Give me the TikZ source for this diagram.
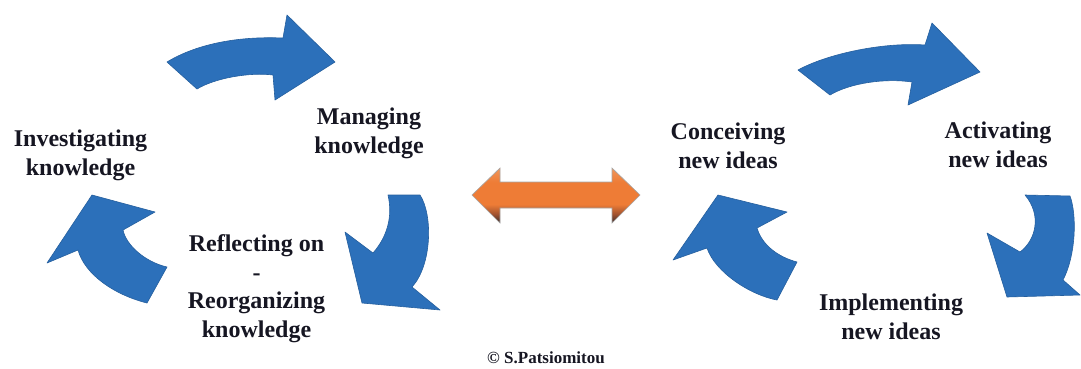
\documentclass[tikz,border=0pt]{standalone}
\usepackage{fontspec}
\setmainfont{Liberation Serif}
\definecolor{arrowblue}{RGB}{44,112,186}
\definecolor{labelink}{RGB}{22,22,34}
\definecolor{orangetop}{RGB}{240,150,92}
\definecolor{orangemid}{RGB}{238,124,54}
\definecolor{orangelow}{RGB}{160,82,48}
\definecolor{orangebot}{RGB}{58,44,44}
% vertical shading of the double arrow: dark rim at the bottom, orange body
\pgfdeclareverticalshading{orangebar}{100bp}{%
  color(0bp)=(orangebot); color(25bp)=(orangebot); color(33bp)=(orangelow);
  color(42bp)=(orangemid); color(62bp)=(orangemid); color(75bp)=(orangetop);
  color(100bp)=(orangetop)}
\begin{document}
\begin{tikzpicture}[x=1pt,y=-1pt,
  cyclearrow/.style={fill=arrowblue, draw=arrowblue!85!black, line width=0.6pt, line join=round},
  label/.style={font=\fontsize{24}{29}\selectfont\bfseries, text=labelink, align=center, anchor=base, inner sep=0pt},
]
\useasboundingbox (0,0) rectangle (1081,368);
\fill[white] (0,0) rectangle (1081,368);

% ---- knowledge cycle ----
% top arrow, pointing right
\path[cyclearrow] (167,62) .. controls (195,45) and (235,36) .. (283,38)
  -- (287,15) -- (335,62) -- (275,100) -- (273,75)
  .. controls (250,72) and (215,78) .. (197,89) -- cycle;
% right arrow, pointing down-left
\path[cyclearrow] (388,195) -- (420,195)
  .. controls (433,215) and (432,265) .. (412,287)
  -- (440,310) -- (362,303) -- (345,232) -- (373,253)
  .. controls (387,237) and (393,217) .. (388,195) -- cycle;
% left arrow, pointing up-left
\path[cyclearrow] (92,195) -- (155,212) -- (123,230)
  .. controls (126,245) and (145,262) .. (167,267)
  -- (147,303)
  .. controls (115,295) and (85,275) .. (78,250)
  -- (47,263) -- cycle;

% ---- ideas cycle ----
% top arrow, pointing right
\path[cyclearrow] (798,70) .. controls (825,55) and (880,42) .. (925,45)
  -- (932,23) -- (980,72) -- (908,105) -- (912,82)
  .. controls (885,78) and (850,83) .. (830,95) -- cycle;
% right arrow, pointing down-left
\path[cyclearrow] (1025,195) -- (1070,196)
  .. controls (1077,215) and (1076,255) .. (1063,280)
  -- (1080,295) -- (1007,297) -- (987,233) -- (1020,252)
  .. controls (1036,240) and (1042,215) .. (1025,195) -- cycle;
% left arrow, pointing up-left
\path[cyclearrow] (718,195) -- (787,212) -- (757,228)
  .. controls (762,245) and (778,257) .. (797,262)
  -- (777,300)
  .. controls (750,295) and (715,272) .. (707,248)
  -- (673,260) -- cycle;

% ---- double arrow linking the two cycles ----
\shadedraw[shading=orangebar, draw=gray!70, line width=0.6pt, line join=miter]
  (472,195) -- (500,168) -- (500,182) -- (612,182) -- (612,168) -- (640,195)
  -- (612,223) -- (612,208) -- (500,208) -- (500,223) -- cycle;

% ---- labels (anchored on the baseline of their last line) ----
\node[label] (investigating) at (80.5,175) {Investigating\\knowledge};
\node[label] (managing) at (369,153) {Managing\\knowledge};
\node[label, font=\fontsize{24}{28.5}\selectfont\bfseries] (reflecting) at (256.5,337)
  {Reflecting on\\-\\Reorganizing\\knowledge};
\node[label] (conceiving) at (728,168) {Conceiving\\new ideas};
\node[label] (activating) at (998,167) {Activating\\new ideas};
\node[label] (implementing) at (891,339) {Implementing\\new ideas};
\node[label, font=\fontsize{17}{20}\selectfont\bfseries] (copyright) at (546,363)
  {\textcopyright\ S.Patsiomitou};
\end{tikzpicture}
\end{document}
